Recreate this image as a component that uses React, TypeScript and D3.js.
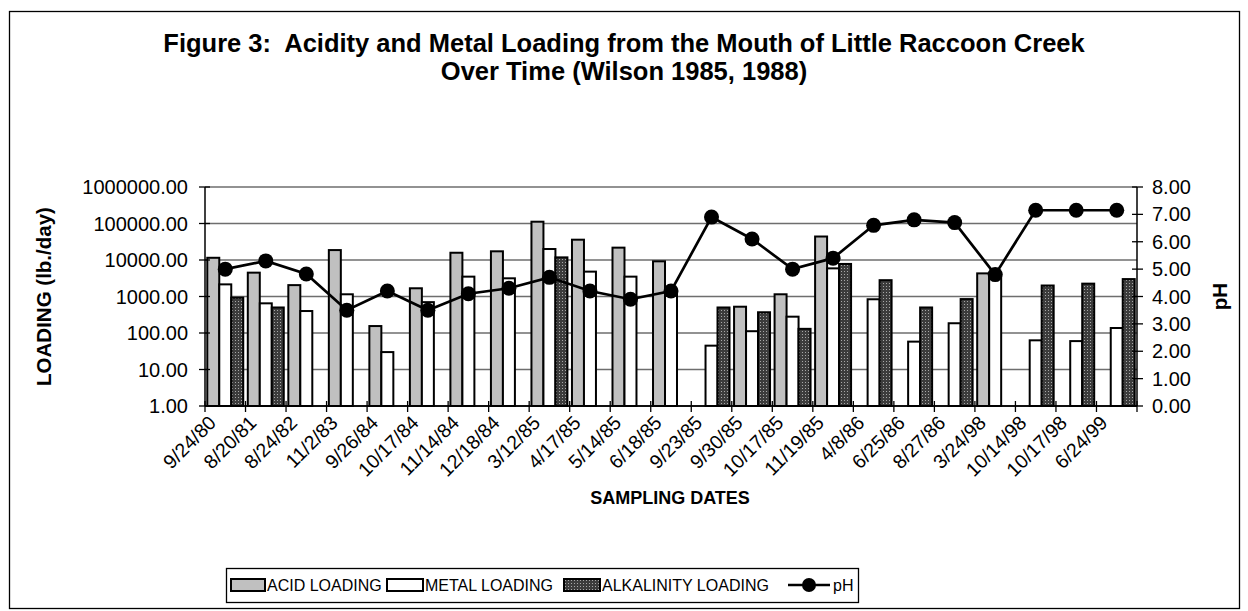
import React from "react";
import * as d3 from "d3";

const categories = ["9/24/80","8/20/81","8/24/82","11/2/83","9/26/84","10/17/84","11/14/84","12/18/84","3/12/85","4/17/85","5/14/85","6/18/85","9/23/85","9/30/85","10/17/85","11/19/85","4/8/86","6/25/86","8/27/86","3/24/98","10/14/98","10/17/98","6/24/99"];
const acidLoading: (number | null)[] = [11500,4500,2050,18700,155,1680,15800,17300,112000,36000,21800,9200,null,525,1150,44000,null,null,null,4300,null,null,null];
const metalLoading: (number | null)[] = [2150,650,400,1150,30,700,3500,3150,20000,4800,3500,1300,45,112,280,5900,840,58,185,4000,63,60,137];
const alkalinityLoading: (number | null)[] = [930,500,null,null,null,null,null,null,11800,null,null,null,500,370,130,7800,2800,500,850,null,2000,2250,3000];
const pHValues = [5.0,5.3,4.82,3.5,4.2,3.5,4.1,4.3,4.7,4.2,3.9,4.2,6.9,6.1,5.0,5.4,6.6,6.8,6.7,4.8,7.15,7.15,7.15];
const leftTicks = [1,10,100,1000,10000,100000,1000000];
const rightTicks = [0,1,2,3,4,5,6,7,8];

const FONT = "'Liberation Sans', Arial, sans-serif";
const W = 1248, H = 611;
const L = 205, R = 1137, T = 187, B = 406;

export default function App() {
  const x = d3.scaleBand<string>().domain(categories).range([L, R]).padding(0);
  const seriesKeys = ["acid", "metal", "alk"];
  const xs = d3.scaleBand<string>().domain(seriesKeys).range([0, x.bandwidth()]).paddingInner(0).paddingOuter(0.19);
  const y = d3.scaleLog().domain([1, 1e6]).range([B, T]);
  const yR = d3.scaleLinear().domain([0, 8]).range([B, T]);
  const fmt = d3.format(".2f");

  const series = [
    { key: "acid", data: acidLoading, fill: "#c0c0c0" },
    { key: "metal", data: metalLoading, fill: "#ffffff" },
    { key: "alk", data: alkalinityLoading, fill: "url(#dots)" },
  ];

  const line = d3.line<number>()
    .x((_, i) => (x(categories[i]) as number) + x.bandwidth() / 2)
    .y((d) => yR(d));

  return (
    <svg width={W} height={H} style={{ position: "absolute", left: 0, top: 0, background: "#fff" }} fontFamily={FONT}>
      <defs>
        <pattern id="dots" width="3" height="3" patternUnits="userSpaceOnUse">
          <rect width="3" height="3" fill="#3c3c3c" />
          <rect x="1" y="1" width="1" height="1" fill="#a8a8a8" />
        </pattern>
      </defs>
      <rect x={9.5} y={11.5} width={1230} height={597} fill="none" stroke="#000" strokeWidth={1.3} />
      <text x={624} y={52} textAnchor="middle" fontSize={25.5} fontWeight="bold" style={{ whiteSpace: "pre" }}>{"Figure 3:  Acidity and Metal Loading from the Mouth of Little Raccoon Creek"}</text>
      <text x={624} y={80} textAnchor="middle" fontSize={25.5} fontWeight="bold">Over Time (Wilson 1985, 1988)</text>

      {leftTicks.map((t) => (
        <line key={"g" + t} x1={L} x2={R} y1={y(t)} y2={y(t)} stroke={t === 1 ? "#000" : "#6e6e6e"} strokeWidth={1.4} />
      ))}

      {series.map((s) => (
        <g key={s.key}>
          {s.data.map((v, i) =>
            v == null ? null : (
              <rect key={i}
                x={(x(categories[i]) as number) + (xs(s.key) as number)}
                y={y(v)}
                width={xs.bandwidth()}
                height={B - y(v)}
                fill={s.fill} stroke="#000" strokeWidth={2} />
            )
          )}
        </g>
      ))}

      {/* axes */}
      <line x1={L} x2={L} y1={T} y2={B} stroke="#000" strokeWidth={1.5} />
      <line x1={R} x2={R} y1={T} y2={B} stroke="#000" strokeWidth={1.5} />
      <line x1={L} x2={R} y1={B} y2={B} stroke="#000" strokeWidth={1.5} />
      {leftTicks.map((t) => (
        <g key={"lt" + t}>
          <line x1={L - 6} x2={L + 5} y1={y(t)} y2={y(t)} stroke="#000" strokeWidth={1.3} />
          <text x={188} y={y(t) + 7} textAnchor="end" fontSize={20}>{fmt(t)}</text>
        </g>
      ))}
      {rightTicks.map((t) => (
        <g key={"rt" + t}>
          <line x1={R - 5} x2={R + 6} y1={yR(t)} y2={yR(t)} stroke="#000" strokeWidth={1.3} />
          <text x={1152} y={yR(t) + 7} textAnchor="start" fontSize={20}>{fmt(t)}</text>
        </g>
      ))}
      {categories.map((c, i) => (
        <line key={"xt" + i} x1={x(c) as number} x2={x(c) as number} y1={B - 5} y2={B + 6} stroke="#000" strokeWidth={1.3} />
      ))}
      <line x1={R} x2={R} y1={B - 5} y2={B + 6} stroke="#000" strokeWidth={1.3} />
      {categories.map((c, i) => {
        const cx = (x(c) as number) + x.bandwidth() / 2;
        return (
          <text key={"xl" + i} transform={`translate(${cx - 8},${424}) rotate(-45)`} textAnchor="end" fontSize={19.5}>{c}</text>
        );
      })}

      {/* pH line */}
      <path d={line(pHValues) as string} fill="none" stroke="#000" strokeWidth={2.7} />
      {pHValues.map((v, i) => (
        <circle key={"m" + i} cx={(x(categories[i]) as number) + x.bandwidth() / 2} cy={yR(v)} r={7.5} fill="#000" />
      ))}

      {/* axis titles */}
      <text transform={`translate(51,${(T + B) / 2}) rotate(-90)`} textAnchor="middle" fontSize={20.5} fontWeight="bold">LOADING (lb./day)</text>
      <text transform={`translate(1227,${(T + B) / 2}) rotate(-90)`} textAnchor="middle" fontSize={20.5} fontWeight="bold">pH</text>
      <text x={670} y={504} textAnchor="middle" fontSize={18} fontWeight="bold">SAMPLING DATES</text>

      {/* legend */}
      <rect x={226.5} y={568.5} width={632} height={34} fill="#fff" stroke="#000" strokeWidth={1.3} />
      <rect x={231} y={579} width={34} height={12} fill="#c0c0c0" stroke="#000" strokeWidth={2} />
      <text x={267} y={591} fontSize={16}>ACID LOADING</text>
      <rect x={387} y={579} width={36} height={12} fill="#fff" stroke="#000" strokeWidth={2} />
      <text x={425} y={591} fontSize={16}>METAL LOADING</text>
      <rect x={564} y={579} width={36} height={12} fill="url(#dots)" stroke="#000" strokeWidth={2} />
      <text x={602} y={591} fontSize={16}>ALKALINITY LOADING</text>
      <line x1={788} x2={830} y1={585} y2={585} stroke="#000" strokeWidth={2.5} />
      <circle cx={809} cy={585} r={7} fill="#000" />
      <text x={833} y={591} fontSize={16}>pH</text>
    </svg>
  );
}
